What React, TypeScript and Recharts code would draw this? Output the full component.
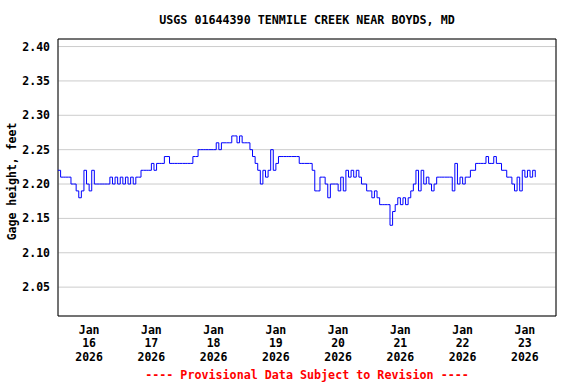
import React from 'react';
import { LineChart, Line, XAxis, YAxis, CartesianGrid, ReferenceArea } from 'recharts';

// gage height, feet, one reading per hour starting Jan 16 00:00
const jan16 = [2.22, 2.21, 2.21, 2.21, 2.21, 2.20, 2.20, 2.19, 2.18, 2.19, 2.22, 2.20, 2.19, 2.22, 2.20, 2.20, 2.20, 2.20, 2.20, 2.20, 2.21, 2.20, 2.21, 2.20];
const jan17 = [2.21, 2.20, 2.21, 2.20, 2.21, 2.20, 2.21, 2.21, 2.22, 2.22, 2.22, 2.22, 2.23, 2.22, 2.23, 2.23, 2.23, 2.24, 2.24, 2.23, 2.23, 2.23, 2.23, 2.23];
const jan18 = [2.23, 2.23, 2.23, 2.23, 2.24, 2.24, 2.25, 2.25, 2.25, 2.25, 2.25, 2.25, 2.25, 2.26, 2.25, 2.26, 2.26, 2.26, 2.26, 2.27, 2.27, 2.26, 2.27, 2.26];
const jan19 = [2.26, 2.26, 2.25, 2.24, 2.23, 2.22, 2.20, 2.22, 2.21, 2.22, 2.25, 2.22, 2.23, 2.24, 2.24, 2.24, 2.24, 2.24, 2.24, 2.24, 2.24, 2.23, 2.23, 2.23];
const jan20 = [2.23, 2.23, 2.22, 2.19, 2.19, 2.21, 2.21, 2.20, 2.18, 2.20, 2.20, 2.20, 2.19, 2.21, 2.19, 2.22, 2.21, 2.22, 2.21, 2.22, 2.21, 2.20, 2.20, 2.19];
const jan21 = [2.19, 2.18, 2.19, 2.18, 2.17, 2.17, 2.17, 2.17, 2.14, 2.16, 2.17, 2.18, 2.17, 2.18, 2.17, 2.18, 2.19, 2.20, 2.22, 2.19, 2.22, 2.20, 2.21, 2.20];
const jan22 = [2.19, 2.20, 2.21, 2.21, 2.21, 2.21, 2.21, 2.21, 2.19, 2.23, 2.20, 2.21, 2.20, 2.21, 2.21, 2.22, 2.22, 2.23, 2.23, 2.23, 2.23, 2.24, 2.23, 2.23];
const jan23 = [2.24, 2.23, 2.23, 2.22, 2.22, 2.21, 2.21, 2.20, 2.19, 2.21, 2.19, 2.22, 2.21, 2.22, 2.21, 2.22, 2.21];

const dayLabels = ['16', '17', '18', '19', '20', '21', '22', '23'];
const midnightTicks = [0, 24, 48, 72, 96, 120, 144, 168, 192];
const noonTicks = [12, 36, 60, 84, 108, 132, 156, 180];
const yTicks = [2.05, 2.10, 2.15, 2.20, 2.25, 2.30, 2.35, 2.40];

const gageHeight = [...jan16, ...jan17, ...jan18, ...jan19, ...jan20, ...jan21, ...jan22, ...jan23];
const data = gageHeight.map((v, i) => ({ hour: i, height: v }));

const FONT = '"DejaVu Sans Mono", "Liberation Mono", monospace';

const DayTick = (props: any) => {
    const { x, y, payload } = props;
    const i = noonTicks.indexOf(payload.value);
    return (
        <text x={x} y={y} textAnchor="middle" fontFamily={FONT} fontWeight="bold" fontSize={11.5} fill="#000">
            <tspan x={x} dy={10}>Jan</tspan>
            <tspan x={x} dy={13.3}>{dayLabels[i]}</tspan>
            <tspan x={x} dy={13.3}>2026</tspan>
        </text>
    );
};

const App = () => {
    return (
        <div style={{ position: 'absolute', left: 0, top: 0, width: 576, height: 384, background: '#fff', fontFamily: FONT }}>
            <div style={{ position: 'absolute', left: 58, width: 498, top: 13, lineHeight: '14px', fontSize: 11.7, fontWeight: 'bold', textAlign: 'center', color: '#000' }}>
                USGS 01644390 TENMILE CREEK NEAR BOYDS, MD
            </div>
            <LineChart width={576} height={384} data={data} margin={{ top: 39, right: 20, bottom: 8, left: 0 }}>
                <CartesianGrid stroke="#cccccc" />
                <XAxis dataKey="hour" type="number" domain={[0, 192]} ticks={midnightTicks} tick={false} tickLine={false} axisLine={false} height={0} allowDataOverflow />
                <XAxis xAxisId="day" dataKey="hour" type="number" domain={[0, 192]} ticks={noonTicks} interval={0} tick={<DayTick />} tickLine={false} axisLine={false} height={60} allowDataOverflow />
                <YAxis
                    type="number"
                    domain={[2.008, 2.411]}
                    ticks={yTicks}
                    width={58}
                    allowDataOverflow
                    tickLine={false}
                    axisLine={false}
                    tickFormatter={(v: number) => v.toFixed(2)}
                    tick={{ fontFamily: FONT, fontWeight: 'bold', fontSize: 11.5, fill: '#000' }}
                    label={{ value: 'Gage height, feet', angle: -90, position: 'center', dx: -17, dy: 4, style: { fontFamily: FONT, fontWeight: 'bold', fontSize: 11.5, fill: '#000' } }}
                />
                <ReferenceArea x1={0} x2={192} y1={2.008} y2={2.411} fill="none" stroke="#000" strokeWidth={1} fillOpacity={0} ifOverflow="visible" />
                <Line type="stepAfter" dataKey="height" stroke="#0000ff" strokeWidth={1} dot={false} isAnimationActive={false} />
            </LineChart>
            <div style={{ position: 'absolute', left: 58, width: 498, top: 368, lineHeight: '14px', fontSize: 11.7, fontWeight: 'bold', textAlign: 'center', color: '#ff0000' }}>
                ---- Provisional Data Subject to Revision ----
            </div>
        </div>
    );
};

export default App;
